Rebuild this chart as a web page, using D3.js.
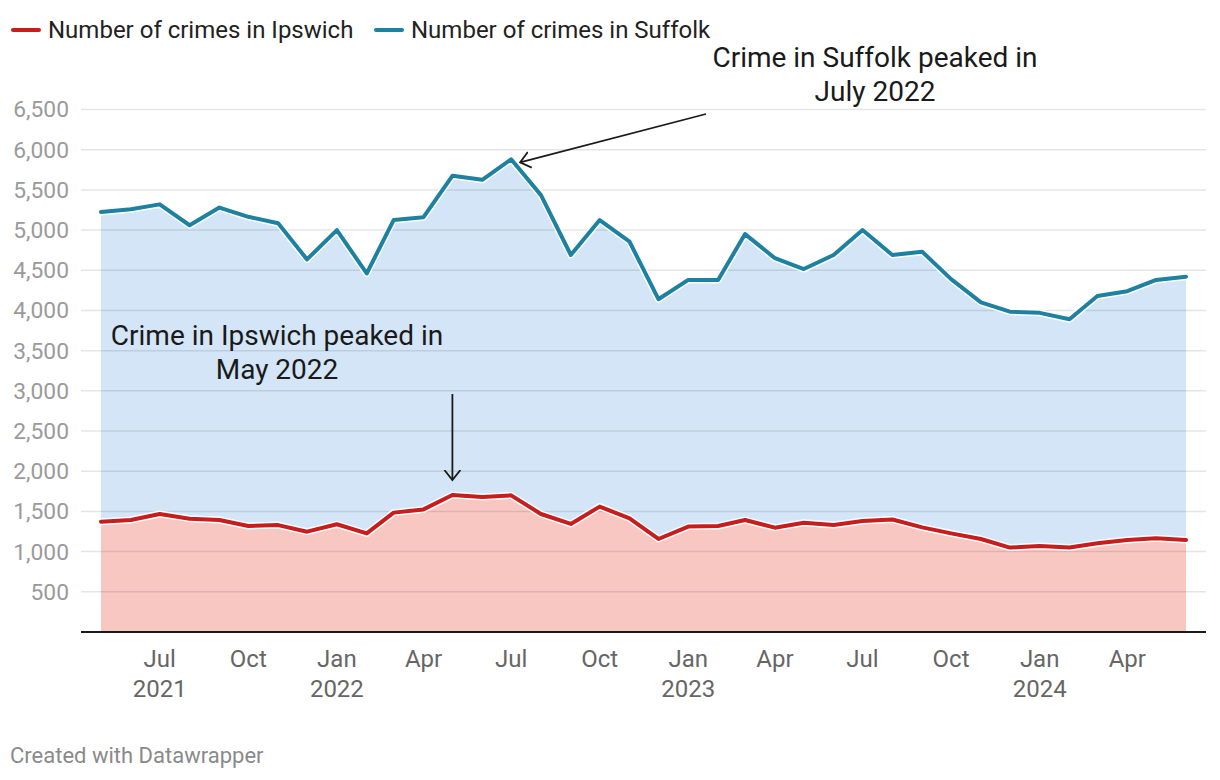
<!DOCTYPE html>
<html><head><meta charset="utf-8">
<script src="https://cdn.jsdelivr.net/npm/d3@7"></script>
<style>
html,body{margin:0;padding:0;background:#fff;}
svg{display:block;font-family:Roboto, "Noto Sans", sans-serif;}
</style></head>
<body>
<svg id="c" width="1220" height="780"></svg>
<script>
const months = ["2021-05","2021-06","2021-07","2021-08","2021-09","2021-10","2021-11","2021-12",
"2022-01","2022-02","2022-03","2022-04","2022-05","2022-06","2022-07","2022-08","2022-09","2022-10","2022-11","2022-12",
"2023-01","2023-02","2023-03","2023-04","2023-05","2023-06","2023-07","2023-08","2023-09","2023-10","2023-11","2023-12",
"2024-01","2024-02","2024-03","2024-04","2024-05","2024-06"];
const suffolk = [5225,5260,5320,5060,5280,5165,5085,4635,5000,4460,5125,5160,5675,5625,5880,5435,4690,5125,4855,4140,
4380,4380,4950,4650,4515,4690,5000,4690,4730,4390,4100,3985,3970,3890,4180,4240,4380,4420];
const ipswich = [1372,1393,1468,1410,1393,1318,1330,1248,1340,1227,1485,1525,1704,1680,1700,1468,1344,1560,1414,1157,
1311,1318,1393,1298,1360,1330,1380,1400,1302,1227,1157,1050,1070,1050,1103,1145,1165,1145];
const yTicks = [500,1000,1500,2000,2500,3000,3500,4000,4500,5000,5500,6000,6500];
const xTickMonths = ["2021-07","2021-10","2022-01","2022-04","2022-07","2022-10","2023-01","2023-04","2023-07","2023-10","2024-01","2024-04"];
const seriesNames = ["Number of crimes in Ipswich","Number of crimes in Suffolk"];

const parse = d3.timeParse("%Y-%m");
const dates = months.map(parse);
const svg = d3.select("#c");

const x = d3.scaleTime().domain([dates[0], dates[dates.length-1]]).range([101, 1186]);
const y = d3.scaleLinear().domain([0, 6500]).range([632, 109.5]);

const colRed = "#c71e1d", colBlue = "#1d81a2";
const fillRed = "#f8c7c2", fillBlue = "#d3e5f6";
const gridX1 = 81, gridX2 = 1206;

const dS = dates.map((d,i)=>({d, v:suffolk[i]}));
const dI = dates.map((d,i)=>({d, v:ipswich[i]}));

const area = d3.area().x(p=>x(p.d)).y0(y(0)).y1(p=>y(p.v));
const line = d3.line().x(p=>x(p.d)).y(p=>y(p.v));

svg.append("path").attr("d", area(dS)).attr("fill", fillBlue);
svg.append("path").attr("d", area(dI)).attr("fill", fillRed);

// gridlines
svg.append("g").selectAll("line").data(yTicks).join("line")
  .attr("x1", gridX1).attr("x2", gridX2)
  .attr("y1", d=>y(d)).attr("y2", d=>y(d))
  .attr("stroke", "rgba(0,0,0,0.1)").attr("stroke-width", 1.5);

// y labels
svg.append("g").selectAll("text").data(yTicks).join("text")
  .attr("x", 69).attr("y", d=>y(d)).attr("dy", "0.35em")
  .attr("text-anchor", "end").attr("font-size", 22.8).attr("fill", "#9a9a9a")
  .text(d=>d3.format(",")(d));

// lines with halo
[[dS,colBlue],[dI,colRed]].forEach(([data,c])=>{
  svg.append("path").attr("d", line(data)).attr("fill","none")
    .attr("stroke","#fff").attr("stroke-width",7).attr("stroke-linejoin","round").attr("stroke-linecap","round");
  svg.append("path").attr("d", line(data)).attr("fill","none")
    .attr("stroke",c).attr("stroke-width",4).attr("stroke-linejoin","round").attr("stroke-linecap","round");
});

// x axis baseline
svg.append("line").attr("x1",gridX1).attr("x2",gridX2).attr("y1",y(0)).attr("y2",y(0))
  .attr("stroke","#1a1a1a").attr("stroke-width",2);

// x labels
const fmtM = d3.timeFormat("%b"), fmtY = d3.timeFormat("%Y");
const xt = svg.append("g");
xTickMonths.map(parse).forEach(d=>{
  xt.append("text").attr("x", x(d)).attr("y", 666.5).attr("text-anchor","middle")
    .attr("font-size", 24).attr("fill", "#666").text(fmtM(d));
  if (d.getMonth()===0 || +d===+parse("2021-07")) {
    xt.append("text").attr("x", x(d)).attr("y", 696.5).attr("text-anchor","middle")
      .attr("font-size", 24).attr("fill", "#666").text(fmtY(d));
  }
});

// legend
const leg = [[12, colRed, seriesNames[0]],[375, colBlue, seriesNames[1]]];
leg.forEach(([lx,c,t])=>{
  svg.append("line").attr("x1",lx+1).attr("x2",lx+27).attr("y1",30).attr("y2",30)
    .attr("stroke",c).attr("stroke-width",4).attr("stroke-linecap","round");
  svg.append("text").attr("x",lx+36).attr("y",30).attr("dy","0.35em")
    .attr("font-size",24).attr("fill","#222").text(t);
});

// annotations
function annot(cx, y1, lines){
  const t = svg.append("text").attr("text-anchor","middle").attr("font-size",28).attr("fill","#1a1a1a");
  lines.forEach((l,i)=>t.append("tspan").attr("x",cx).attr("y",y1+i*34).text(l));
}
annot(875, 67, ["Crime in Suffolk peaked in","July 2022"]);
annot(277, 345, ["Crime in Ipswich peaked in","May 2022"]);

const defs = svg.append("defs");
defs.append("marker").attr("id","ah").attr("viewBox","0 0 12 18").attr("refX",10.5).attr("refY",9)
  .attr("markerWidth",12).attr("markerHeight",18).attr("markerUnits","userSpaceOnUse").attr("orient","auto")
  .append("path").attr("d","M0.5,1 L10.5,9 L0.5,17").attr("fill","none").attr("stroke","#1a1a1a").attr("stroke-width",1.8);

const pk = dates[14], pkI = dates[12];
svg.append("line").attr("x1",706).attr("y1",114).attr("x2",x(pk)+9).attr("y2",y(5880)+3)
  .attr("stroke","#1a1a1a").attr("stroke-width",1.8).attr("marker-end","url(#ah)");
svg.append("line").attr("x1",x(pkI)).attr("y1",394).attr("x2",x(pkI)).attr("y2",480)
  .attr("stroke","#1a1a1a").attr("stroke-width",1.8).attr("marker-end","url(#ah)");

// footer
svg.append("text").attr("x",10).attr("y",763).attr("font-size",22).attr("fill","#8a8a8a").text("Created with Datawrapper");
</script>
</body></html>
